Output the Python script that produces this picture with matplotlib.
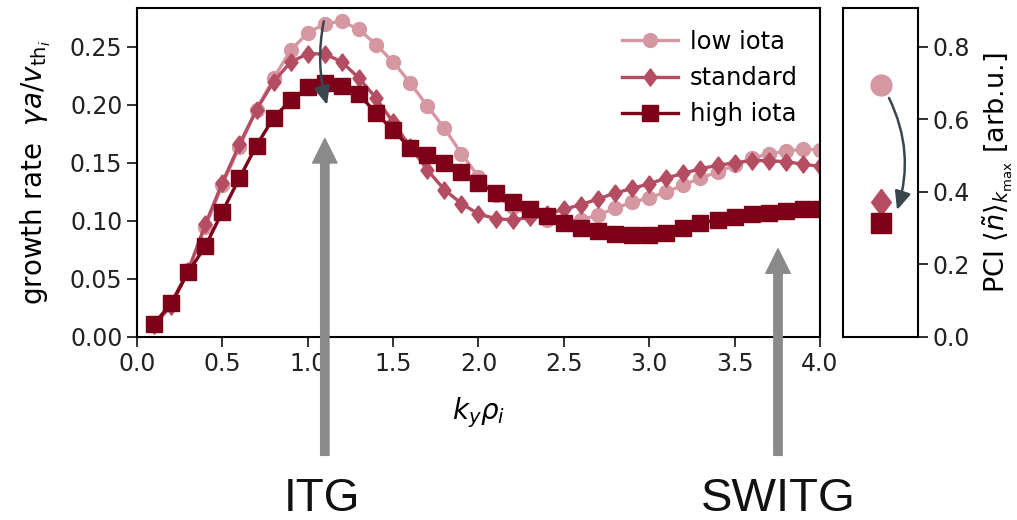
import numpy as np
import matplotlib
matplotlib.use("Agg")
import matplotlib.pyplot as plt

ky = np.round(np.arange(1, 41) * 0.1, 1)

low_iota = [0.012, 0.029, 0.058, 0.095, 0.131, 0.164, 0.196, 0.223, 0.247, 0.262,
            0.270, 0.272, 0.265, 0.252, 0.237, 0.219, 0.199, 0.180, 0.158, 0.138,
            0.122, 0.112, 0.105, 0.101, 0.100, 0.101, 0.105, 0.111, 0.116, 0.120,
            0.125, 0.131, 0.137, 0.142, 0.148, 0.154, 0.158, 0.160, 0.162, 0.161]
standard = [0.010, 0.027, 0.057, 0.097, 0.133, 0.166, 0.196, 0.220, 0.237, 0.244,
            0.244, 0.237, 0.223, 0.206, 0.185, 0.164, 0.144, 0.127, 0.115, 0.106,
            0.102, 0.101, 0.103, 0.106, 0.110, 0.114, 0.119, 0.124, 0.128, 0.132,
            0.137, 0.141, 0.145, 0.148, 0.150, 0.152, 0.152, 0.151, 0.149, 0.147]
high_iota = [0.011, 0.029, 0.056, 0.078, 0.108, 0.137, 0.165, 0.189, 0.204, 0.215,
             0.219, 0.216, 0.209, 0.193, 0.178, 0.163, 0.157, 0.150, 0.142, 0.133,
             0.124, 0.116, 0.110, 0.104, 0.098, 0.094, 0.091, 0.089, 0.088, 0.088,
             0.090, 0.094, 0.098, 0.101, 0.103, 0.106, 0.107, 0.109, 0.110, 0.110]

labels = ["low iota", "standard", "high iota"]
diamond = [(0, 1), (0.75, 0), (0, -1), (-0.75, 0), (0, 1)]
markers = ["o", diamond, "s"]
colors = ["#d597a2", "#b44d62", "#7d0018"]
pci = [0.695, 0.373, 0.315]

plt.rcParams['font.family'] = ['DejaVu Sans']
plt.rcParams['mathtext.fontset'] = 'dejavusans'

fig = plt.figure(figsize=(10.17, 5.2), dpi=100)
ax = fig.add_axes([137/1017, 1 - 337/520, (820-137)/1017, (337-8)/520])
ax2 = fig.add_axes([843/1017, 1 - 337/520, (918-843)/1017, (337-8)/520])

sizes = [10, 12.5, 11]
for y, lab, m, c, ms in zip([low_iota, standard, high_iota], labels, markers, colors, sizes):
    ax.plot(ky, y, marker=m, color=c, lw=2.4, ms=ms, label=lab)

ax.set_xlim(0, 4.0)
ax.set_ylim(0, 0.2835)
ax.set_xticks(np.arange(0, 4.01, 0.5))
ax.set_yticks(np.arange(0, 0.26, 0.05))
ax.tick_params(labelsize=17, length=7, width=1.3, colors="#222222", labelcolor="#222222")
ax.set_xlabel(r"$k_y\rho_i$", fontsize=20, labelpad=14)
ax.set_ylabel(r"growth rate  $\gamma a/v_{\mathrm{th}_i}$", fontsize=20, labelpad=12)
for s in ax.spines.values():
    s.set_linewidth(1.5)
ax.legend(loc="upper right", frameon=False, fontsize=17.5, handlelength=2.3,
          labelspacing=0.5, handletextpad=0.5)

# arrow inside the growth-rate panel
ax.annotate("", xy=(1.113, 0.200), xytext=(1.094, 0.272),
            arrowprops=dict(arrowstyle="-|>,head_width=0.35,head_length=0.8",
                            color="#3a464e", lw=1.8, mutation_scale=14,
                            connectionstyle="arc3,rad=0.12", shrinkA=0, shrinkB=0))

# big grey arrows
for xa, ya in [(1.1, 0.171), (3.754, 0.076)]:
    ax.annotate("", xy=(xa, ya), xytext=(xa, -0.102), xycoords="data",
                annotation_clip=False,
                arrowprops=dict(arrowstyle="simple,head_width=0.88,head_length=0.88,tail_width=0.3",
                                color="#8a8a8a", mutation_scale=20, shrinkA=0, shrinkB=0))

fig.text(322/1017, 1 - 499/520, "ITG", fontsize=33, family="Liberation Sans",
         ha="center", va="center", color="#111111")
fig.text(778/1017, 1 - 499/520, "SWITG", fontsize=34, family="Liberation Sans",
         ha="center", va="center", color="#111111")

# PCI panel
for v, m, c, ms in zip(pci, markers, colors, [15, 19, 15]):
    ax2.plot([0], [v], marker=m, color=c, ms=ms, ls="none")
ax2.set_xlim(-1, 1)
ax2.set_ylim(0, 0.907)
ax2.set_xticks([])
ax2.set_yticks(np.arange(0, 0.81, 0.2))
ax2.yaxis.tick_right()
ax2.yaxis.set_label_position("right")
ax2.tick_params(labelsize=17, length=7, width=1.3, colors="#222222", labelcolor="#222222")
ax2.set_ylabel(r"PCI $\langle\tilde{n}\rangle_{k_\mathrm{max}}$ [arb.u.]", fontsize=19.5, labelpad=8)
for s in ax2.spines.values():
    s.set_linewidth(1.5)
ax2.annotate("", xy=(0.44, 0.350), xytext=(0.227, 0.659),
             arrowprops=dict(arrowstyle="-|>,head_width=0.35,head_length=0.8",
                             color="#3a464e", lw=1.8, mutation_scale=14,
                             connectionstyle="arc3,rad=-0.2", shrinkA=0, shrinkB=0))

fig.savefig("out.png", dpi=100)
